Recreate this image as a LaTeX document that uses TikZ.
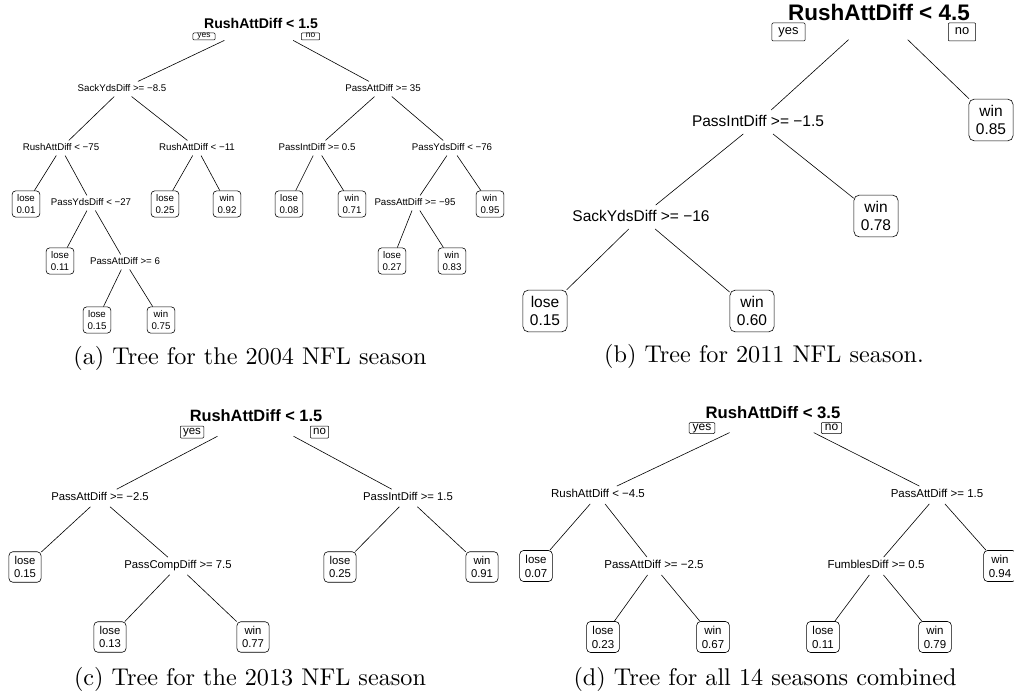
\documentclass[tikz,border=0pt]{standalone}
\usepackage{fontspec}
\usepackage{tikz}
\usetikzlibrary{positioning}
\newfontfamily\treefont{Liberation Sans}
\newfontfamily\capfont{lmroman10-regular.otf}

\begin{document}
\begin{tikzpicture}[
      x=1pt, y=-1pt,
      treesize/.style={
        every node/.style={font=\treefont\fontsize{#1}{\dimexpr#1pt*120/100\relax}\selectfont},
        rootfont/.style={font=\treefont\bfseries\fontsize{\dimexpr#1pt*145/100\relax}{\dimexpr#1pt*170/100\relax}\selectfont},
        splitlbl/.style={inner sep=.3*#1pt, text height=.72*#1pt, text depth=.2*#1pt},
        rootsplit/.style={rootfont, inner xsep=.2*#1pt, inner ysep=1.25*#1pt,
          text height=1.05*#1pt, text depth=0pt},
        leaf/.style={draw, rounded corners=.35*#1pt, align=center, inner sep=.1*#1pt,
          minimum width=2.85*#1pt, minimum height=2.7*#1pt, line width=.6pt}},
      ynbox/.style n args={3}{draw, line width=.5pt, rounded corners=1pt,
        font=\treefont\fontsize{#1}{#1}\selectfont, inner xsep=#2, inner ysep=0pt,
        text height=.55*#1pt, text depth=.2*#1pt, minimum height=#3},
      branchline/.style={line width=.6pt},
      subcap/.style={font=\capfont\fontsize{24.2}{28}\selectfont}
    ]
    \useasboundingbox (0,0) rectangle (1014,700);

    \begin{scope}[treesize=9.7, yn/.style={ynbox={8.4}{4.5pt}{7pt}}]
      \node[rootsplit] (a0) at (261,23) {RushAttDiff < 1.5};
      \node[yn] (a0yes) at (204,36.5) {yes};
      \node[yn] (a0no) at (310.5,36.5) {no};
      \node[splitlbl] (a1) at (122,89) {SackYdsDiff >= −8.5};
      \node[splitlbl] (a2) at (383,89) {PassAttDiff >= 35};
      \node[splitlbl] (a11) at (61,148) {RushAttDiff < −75};
      \node[splitlbl] (a12) at (197,148) {RushAttDiff < −11};
      \node[splitlbl] (a21) at (317,148) {PassIntDiff >= 0.5};
      \node[splitlbl] (a22) at (452,148) {PassYdsDiff < −76};
      \node[leaf] (a111) at (26,204) {lose\\0.01};
      \node[splitlbl] (a112) at (91,203) {PassYdsDiff < −27};
      \node[leaf] (a121) at (165,204) {lose\\0.25};
      \node[leaf] (a122) at (227,204) {win\\0.92};
      \node[leaf] (a211) at (289,204) {lose\\0.08};
      \node[leaf] (a212) at (352,204) {win\\0.71};
      \node[splitlbl] (a221) at (415,203) {PassAttDiff >= −95};
      \node[leaf] (a222) at (490,204) {win\\0.95};
      \node[leaf] (a1121) at (60,261) {lose\\0.11};
      \node[splitlbl] (a1122) at (125,262) {PassAttDiff >= 6};
      \node[leaf] (a2211) at (392,261) {lose\\0.27};
      \node[leaf] (a2212) at (452,261) {win\\0.83};
      \node[leaf] (a11221) at (97,320) {lose\\0.15};
      \node[leaf] (a11222) at (161,320) {win\\0.75};

      \draw[branchline] (a0) -- (a1) (a0) -- (a2);
      \draw[branchline] (a1) -- (a11) (a1) -- (a12);
      \draw[branchline] (a2) -- (a21) (a2) -- (a22);
      \draw[branchline] (a11) -- (a111) (a11) -- (a112);
      \draw[branchline] (a12) -- (a121) (a12) -- (a122);
      \draw[branchline] (a21) -- (a211) (a21) -- (a212);
      \draw[branchline] (a22) -- (a221) (a22) -- (a222);
      \draw[branchline] (a112) -- (a1121) (a112) -- (a1122);
      \draw[branchline] (a221) -- (a2211) (a221) -- (a2212);
      \draw[branchline] (a1122) -- (a11221) (a1122) -- (a11222);
    \end{scope}

    \begin{scope}[treesize=15.5, yn/.style={ynbox={12.9}{6.5pt}{18pt}}]
      \node[rootsplit] (b0) at (879,12) {RushAttDiff < 4.5};
      \node[yn] (b0yes) at (788.5,32) {yes};
      \node[yn] (b0no) at (962,32) {no};
      \node[splitlbl] (b1) at (758,122) {PassIntDiff >= −1.5};
      \node[leaf] (b2) at (991,120) {win\\0.85};
      \node[splitlbl] (b11) at (641,217) {SackYdsDiff >= −16};
      \node[leaf] (b12) at (876,216) {win\\0.78};
      \node[leaf] (b111) at (545,311) {lose\\0.15};
      \node[leaf] (b112) at (752,311) {win\\0.60};

      \draw[branchline] (b0) -- (b1) (b0) -- (b2);
      \draw[branchline] (b1) -- (b11) (b1) -- (b12);
      \draw[branchline] (b11) -- (b111) (b11) -- (b112);
    \end{scope}

    \begin{scope}[treesize=11.3, yn/.style={ynbox={11.5}{2.8pt}{12pt}}]
      \node[rootsplit] (c0) at (256,416) {RushAttDiff < 1.5};
      \node[yn] (c0yes) at (192,432) {yes};
      \node[yn] (c0no) at (319.5,432) {no};
      \node[splitlbl] (c1) at (100,498) {PassAttDiff >= −2.5};
      \node[splitlbl] (c2) at (408,498) {PassIntDiff >= 1.5};
      \node[leaf] (c11) at (25,567) {lose\\0.15};
      \node[splitlbl] (c12) at (178,566) {PassCompDiff >= 7.5};
      \node[leaf] (c21) at (340,567) {lose\\0.25};
      \node[leaf] (c22) at (482,567) {win\\0.91};
      \node[leaf] (c121) at (110,637) {lose\\0.13};
      \node[leaf] (c122) at (253,637) {win\\0.77};

      \draw[branchline] (c0) -- (c1) (c0) -- (c2);
      \draw[branchline] (c1) -- (c11) (c1) -- (c12);
      \draw[branchline] (c2) -- (c21) (c2) -- (c22);
      \draw[branchline] (c12) -- (c121) (c12) -- (c122);
    \end{scope}

    \begin{scope}[treesize=11.5, yn/.style={ynbox={12}{3.5pt}{11pt}}]
      \node[rootsplit] (d0) at (773,412) {RushAttDiff < 3.5};
      \node[yn] (d0yes) at (702,428) {yes};
      \node[yn] (d0no) at (831.5,428) {no};
      \node[splitlbl] (d1) at (598,495) {RushAttDiff < −4.5};
      \node[splitlbl] (d2) at (937,495) {PassAttDiff >= 1.5};
      \node[leaf] (d11) at (536,566) {lose\\0.07};
      \node[splitlbl] (d12) at (654,566) {PassAttDiff >= −2.5};
      \node[splitlbl] (d21) at (876,566) {FumblesDiff >= 0.5};
      \node[leaf] (d22) at (1000,566) {win\\0.94};
      \node[leaf] (d121) at (603,637) {lose\\0.23};
      \node[leaf] (d122) at (713,637) {win\\0.67};
      \node[leaf] (d211) at (823,637) {lose\\0.11};
      \node[leaf] (d212) at (935,637) {win\\0.79};

      \draw[branchline] (d0) -- (d1) (d0) -- (d2);
      \draw[branchline] (d1) -- (d11) (d1) -- (d12);
      \draw[branchline] (d2) -- (d21) (d2) -- (d22);
      \draw[branchline] (d12) -- (d121) (d12) -- (d122);
      \draw[branchline] (d21) -- (d211) (d21) -- (d212);
    \end{scope}

    \node[subcap] (capa) at (250,358) {(a) Tree for the 2004 NFL season};
    \node[subcap] (capb) at (764,356) {(b) Tree for 2011 NFL season.};
    \node[subcap] (capc) at (250,679) {(c) Tree for the 2013 NFL season};
    \node[subcap] (capd) at (765,679) {(d) Tree for all 14 seasons combined};
\end{tikzpicture}
\end{document}
